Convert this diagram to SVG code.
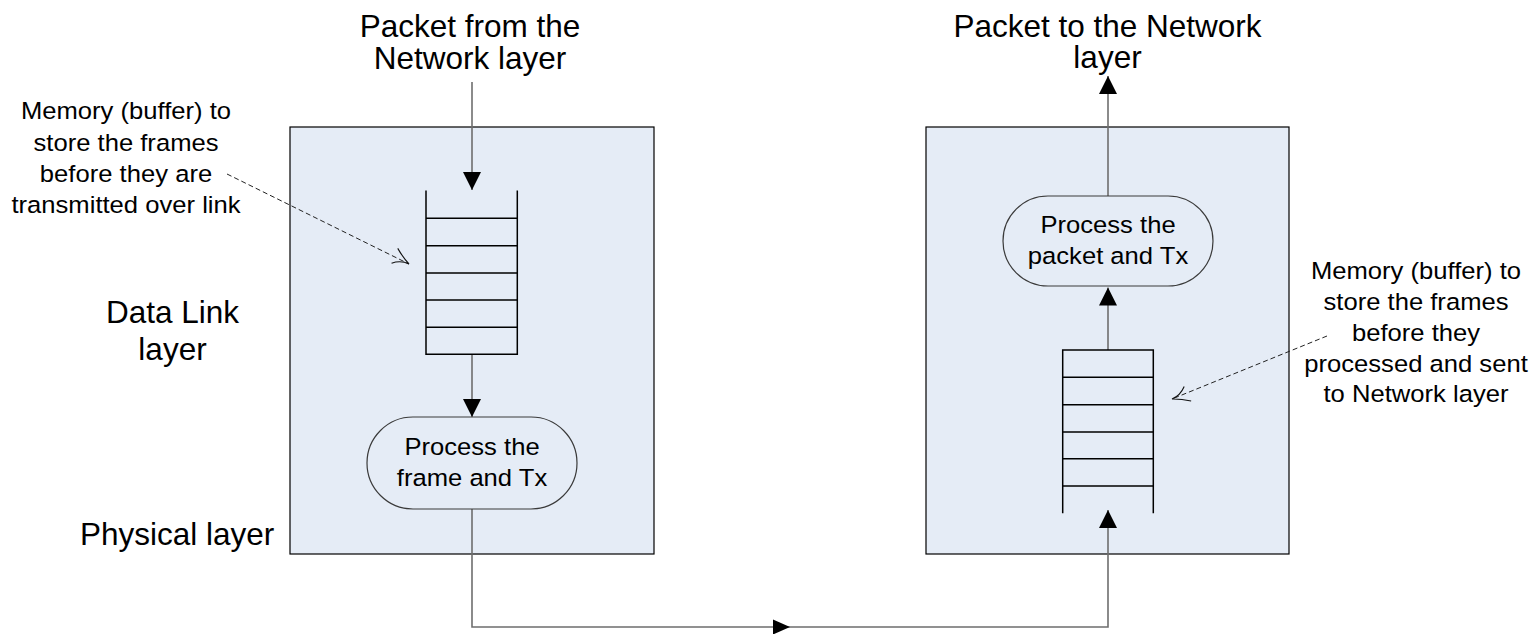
<svg xmlns="http://www.w3.org/2000/svg" width="1539" height="634" viewBox="0 0 1539 634">
  <style>
    text { font-family: "Liberation Sans", Arial, sans-serif; fill: #000; }
    .big { font-size: 31.5px; text-anchor: middle; }
    .small { font-size: 23.5px; text-anchor: middle; }
    .layer { fill: #E5ECF6; stroke: #000; stroke-width: 1.2; }
    .term { fill: none; stroke: #3a3a3a; stroke-width: 1.2; }
    .buf { fill: none; stroke: #000; stroke-width: 1.5; }
    .flow { fill: none; stroke: #6e6e6e; stroke-width: 1.6; }
    .note { fill: none; stroke: #222; stroke-width: 1; stroke-dasharray: 5 3; }
  </style>
  <defs>
    <marker id="solid" markerUnits="userSpaceOnUse" markerWidth="18" markerHeight="18" viewBox="0 0 17 17" refX="17" refY="8.5" orient="auto">
      <path d="M0,0 L17,8.5 L0,17 Z" fill="#000"/>
    </marker>
    <marker id="open" markerUnits="userSpaceOnUse" markerWidth="24" markerHeight="20" viewBox="-20 -10 24 20" refX="0" refY="0" orient="auto">
      <path d="M-17,-9 Q-8,-3 0,0 Q-9,0 -16,7" fill="none" stroke="#111" stroke-width="1.1"/>
    </marker>
  </defs>

  <!-- layer panels -->
  <g id="sender-layer">
    <rect class="layer" x="290" y="127" width="364" height="427"/>
  </g>
  <g id="receiver-layer">
    <rect class="layer" x="926" y="127" width="363" height="427"/>
  </g>

  <!-- connectors -->
  <g id="connectors">
    <line class="flow" x1="472" y1="82" x2="472" y2="190" marker-end="url(#solid)"/>
    <line class="flow" x1="472" y1="354" x2="472" y2="417" marker-end="url(#solid)"/>
    <polyline class="flow" points="472,509 472,627 1108,627 1108,510" marker-end="url(#solid)"/>
    <path d="M773,619.5 L790,627 L773,634.5 Z" fill="#000"/>
    <line class="flow" x1="1108" y1="350" x2="1108" y2="287.5" marker-end="url(#solid)"/>
    <line class="flow" x1="1108" y1="196" x2="1108" y2="76" marker-end="url(#solid)"/>
    <line class="note" x1="227" y1="174" x2="409" y2="264" marker-end="url(#open)"/>
    <line class="note" x1="1327" y1="336" x2="1172" y2="399" marker-end="url(#open)"/>
  </g>

  <!-- sender side -->
  <g id="sender-buffer">
    <path class="buf" d="M426,190.5 V354.3 H517.3 V190.5"/>
    <path class="buf" d="M426,218.3 H517.3 M426,245.7 H517.3 M426,273 H517.3 M426,300 H517.3 M426,327.3 H517.3"/>
  </g>
  <g id="process-frame">
    <rect class="term" x="367" y="417" width="210" height="92" rx="46" ry="46"/>
    <g transform="translate(472,0) scale(1.09,1)">
      <text class="small"><tspan x="0" y="455">Process the</tspan><tspan x="0" y="486">frame and Tx</tspan></text>
    </g>
  </g>

  <!-- receiver side -->
  <g id="receiver-buffer">
    <path class="buf" d="M1062.7,513.3 V350 H1153.3 V513.3"/>
    <path class="buf" d="M1062.7,377.3 H1153.3 M1062.7,404.7 H1153.3 M1062.7,432 H1153.3 M1062.7,458.7 H1153.3 M1062.7,486 H1153.3"/>
  </g>
  <g id="process-packet">
    <rect class="term" x="1003" y="196" width="210" height="90" rx="45" ry="45"/>
    <g transform="translate(1108,0) scale(1.09,1)">
      <text class="small"><tspan x="0" y="232.7">Process the</tspan><tspan x="0" y="264">packet and Tx</tspan></text>
    </g>
  </g>

  <!-- labels -->
  <g id="label-packet-in">
    <text class="big"><tspan x="470" y="36.7">Packet from the</tspan><tspan x="470" y="69.3">Network layer</tspan></text>
  </g>
  <g id="label-packet-out">
    <text class="big"><tspan x="1107.5" y="36.7">Packet to the Network</tspan><tspan x="1107.5" y="68.3">layer</tspan></text>
  </g>
  <g id="label-data-link">
    <text class="big"><tspan x="172.5" y="323.3">Data Link</tspan><tspan x="172.5" y="360">layer</tspan></text>
  </g>
  <g id="label-physical">
    <text class="big" style="text-anchor:start" x="80" y="545">Physical layer</text>
  </g>
  <g id="note-send-buffer" transform="translate(126,0) scale(1.09,1)">
    <text class="small"><tspan x="0" y="119.3">Memory (buffer) to</tspan><tspan x="0" y="150.7">store the frames</tspan><tspan x="0" y="181.7">before they are</tspan><tspan x="0" y="213.3">transmitted over link</tspan></text>
  </g>
  <g id="note-recv-buffer" transform="translate(1416,0) scale(1.09,1)">
    <text class="small"><tspan x="0" y="279.3">Memory (buffer) to</tspan><tspan x="0" y="310">store the frames</tspan><tspan x="0" y="341">before they</tspan><tspan x="0" y="372.3">processed and sent</tspan><tspan x="0" y="401.7">to Network layer</tspan></text>
  </g>
</svg>
